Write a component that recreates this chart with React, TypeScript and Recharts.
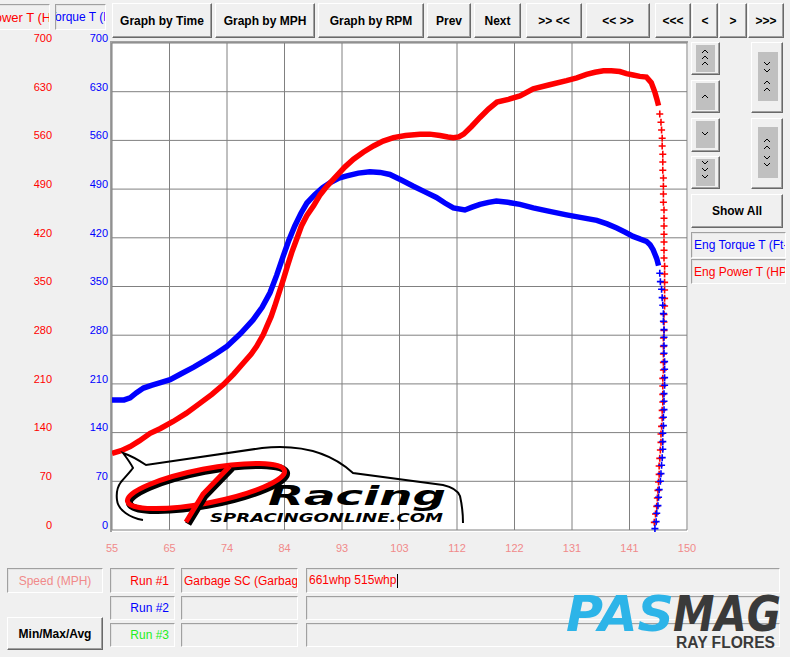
import { LineChart, Line, XAxis, YAxis, CartesianGrid } from "recharts";

// speed axis: grid every 9.5 mph, labels rounded
const speedTicks = [55, 64.5, 74, 83.5, 93, 102.5, 112, 121.5, 131, 140.5, 150];
const speedTickLabels = ["55", "65", "74", "84", "93", "103", "112", "122", "131", "141", "150"];
const valueTicks = [0, 70, 140, 210, 280, 350, 420, 490, 560, 630, 700];

// Eng Power T (HP) - continuous part of the pull
const powerMph = [
  55, 56.5, 58, 59.5, 61.3, 63, 65.1, 67.3, 69.5, 71.5, 73.4, 75.1, 76.7, 78, 78.9, 80, 80.6, 81.3,
  81.9, 82.6, 83.3, 84, 84.7, 85.5, 86.3, 87.2, 88.3, 89.4, 90.5, 92.1, 93.5, 94.9, 96.5, 98.2, 99.8,
  101.5, 103.5, 105.9, 107.5, 109.2, 110.5, 111.4, 112.3, 113.1, 114.4, 115.8, 117.2, 118.6, 120.5,
  122.4, 124.6, 127.3, 130.1, 131.8, 133.4, 134.8, 136.2, 137.5, 138.9, 140, 141.1, 142.2, 143.3,
  144.1, 144.7, 145.0, 145.3,
];
const powerHp = [
  110, 114, 120, 128, 139, 146, 156, 168, 182, 195, 209, 224, 240, 253, 264, 281, 293, 307,
  322, 341, 360, 380, 399, 418, 437, 452, 466, 482, 494, 509, 522, 533, 543, 552, 559,
  564, 567, 569, 569, 567, 565, 564, 565, 569, 580, 593, 605, 615, 619,
  624, 634, 640, 646, 650, 655, 658, 660, 660, 659, 656, 654, 652, 651,
  643, 629, 620, 610,
];
// power drop-off after the pull (sparse samples)
const powerDropMph = [
  145.5, 145.7, 145.8, 145.9, 145.9, 146.0, 146.0, 146.0, 146.1, 146.1, 146.1, 146.1, 146.2, 146.2,
  146.2, 146.2, 146.2, 146.2, 146.2, 146.3, 146.3, 146.3, 146.3, 146.3, 146.3, 146.2, 146.2, 146.2,
  146.1, 146.1, 146.1, 146.1, 146.1, 146.0, 146.0, 146.0, 146.0, 145.9, 145.9, 145.8, 145.7, 145.7,
  145.6, 145.5, 145.4, 145.4, 145.3, 145.2, 145.1, 145.0, 144.8, 144.6,
];
const powerDropHp = [
  598, 586, 575, 563, 552, 540, 529, 517, 506, 494, 483, 471, 460, 448,
  437, 425, 414, 402, 391, 379, 368, 356, 345, 333, 322, 310, 299, 287,
  276, 264, 253, 241, 230, 218, 207, 195, 184, 172, 161, 149, 138, 126,
  115, 103, 92, 80, 69, 57, 46, 34, 23, 11, 2,
];

// Eng Torque T (Ft-Lb)
const torqueMph = [
  55, 57, 58, 59, 60.2, 61.5, 63, 64.6, 66.5, 68.5, 70.6, 72.3, 74, 76.2, 78.3, 79.8, 81.1, 82.2,
  83.3, 84.2, 85.2, 86.2, 87.2, 88.5, 89.8, 91, 92.5, 93.8, 95.7, 97.6, 99.3, 100.9, 102.8, 104.8,
  106.7, 108.6, 110, 111.4, 113.3, 114.5, 115.8, 117.2, 118.5, 120.4, 122.4, 124.6, 127.3, 130.1,
  132.6, 135.1, 136.8, 138.4, 139.8, 141.1, 142.3, 143.3, 143.9, 144.4, 145, 145.3,
];
const torqueFtLb = [
  187, 187, 190, 197, 204, 208, 212, 216, 225, 234, 245, 254, 264, 282, 302, 320, 341, 366,
  394, 416, 437, 455, 470, 482, 492, 499, 506, 509, 513, 515, 514, 511, 503, 494,
  486, 478, 470, 463, 460, 464, 468, 471, 473, 471, 468, 463, 458, 453,
  449, 445, 440, 434, 428, 422, 418, 415, 410, 403, 390, 380,
];
const torqueDropMph = [
  145.5, 145.6, 145.8, 145.9, 146.0, 146.1, 146.1, 146.2, 146.2, 146.2, 146.2, 146.3, 146.3, 146.3,
  146.3, 146.2, 146.2, 146.2, 146.1, 146.1, 146.0, 146.0, 146.0, 145.9, 145.8, 145.7, 145.6, 145.4,
  145.3, 145.2, 145.0, 144.9, 144.7,
];
const torqueDropFtLb = [
  369, 357, 346, 334, 323, 311, 300, 288, 277, 265, 254, 242, 231, 219,
  208, 196, 185, 173, 162, 150, 139, 127, 116, 104, 93, 81, 70, 58,
  47, 35, 24, 12, 2,
];

const powerData = powerMph.map((mph, i) => ({ mph, hp: powerHp[i] }));
const powerDropData = powerDropMph.map((mph, i) => ({ mph, hp: powerDropHp[i] }));
const torqueData = torqueMph.map((mph, i) => ({ mph, tq: torqueFtLb[i] }));
const torqueDropData = torqueDropMph.map((mph, i) => ({ mph, tq: torqueDropFtLb[i] }));

const RED = "#ff0000";
const BLUE = "#0000ff";
const UI_FONT = "'Liberation Sans', Arial, sans-serif";
// axis ids: the torque scale sits next to the plot, the power scale outside it
const TQ_AXIS = "a-torque";
const HP_AXIS = "b-power";

const cross = (color: string) => (p: any) => (
  <path
    key={`c-${p.index}`}
    d={`M${p.cx - 3.5},${p.cy}h7M${p.cx},${p.cy - 3.5}v7`}
    stroke={color}
    strokeWidth={1.6}
    fill="none"
  />
);

const valueTick = (color: string) => (p: any) => (
  <text x={p.x} y={p.y - 5} dy="0.35em" textAnchor="end" fill={color} fontSize={11} fontFamily={UI_FONT}>
    {p.payload.value}
  </text>
);

const SpeedTick = (p: any) => {
  const i = speedTicks.indexOf(p.payload.value);
  return (
    <text x={p.x} y={p.y + 18} dy="0.35em" textAnchor="middle" fill="#f08a8a" fontSize={11} fontFamily={UI_FONT}>
      {speedTickLabels[i]}
    </text>
  );
};

const raised: React.CSSProperties = {
  position: "absolute",
  boxSizing: "border-box",
  background: "#f0f0f0",
  border: "1px solid",
  borderColor: "#ffffff #696969 #696969 #ffffff",
  boxShadow: "inset -1px -1px 0 #a0a0a0",
  display: "flex",
  alignItems: "center",
  justifyContent: "center",
  fontFamily: UI_FONT,
  fontWeight: "bold",
  fontSize: 12,
  color: "#000",
};

const sunken: React.CSSProperties = {
  position: "absolute",
  boxSizing: "border-box",
  background: "#f0f0f0",
  border: "1px solid",
  borderColor: "#a0a0a0 #ffffff #ffffff #a0a0a0",
  boxShadow: "inset 1px 1px 0 #e3e3e3",
  overflow: "hidden",
  whiteSpace: "nowrap",
  fontFamily: UI_FONT,
  fontSize: 12,
  display: "flex",
  alignItems: "center",
};

function Btn({ x, y, w, h, label }: { x: number; y: number; w: number; h: number; label?: string }) {
  return <div style={{ ...raised, left: x, top: y, width: w, height: h }}>{label}</div>;
}

function Box({ x, y, w, h, color, align, children, shift = 2, size = 12 }: any) {
  return (
    <div style={{ ...sunken, left: x, top: y, width: w, height: h, color, fontSize: size, justifyContent: align || "flex-start" }}>
      <span style={{ flexShrink: 0, marginLeft: align ? 0 : shift, marginRight: align === "flex-end" ? 5 : 0 }}>{children}</span>
    </div>
  );
}

// chevron glyph helpers for the scroll buttons
const chev = (cx: number, cy: number, up: boolean, k: string) => (
  <polyline
    key={k}
    points={up ? `${cx - 3},${cy + 2} ${cx},${cy - 1} ${cx + 3},${cy + 2}` : `${cx - 3},${cy - 2} ${cx},${cy + 1} ${cx + 3},${cy - 2}`}
    fill="none"
    stroke="#000"
    strokeWidth={1}
  />
);

export default function App() {
  return (
    <div style={{ position: "fixed", left: 0, top: 0, width: 790, height: 657, background: "#f0f0f0", overflow: "hidden" }}>
      {/* plot frame */}
      <div style={{ position: "absolute", left: 110, top: 41, width: 578, height: 491, background: "#fff", borderTop: "2px solid #a0a0a0", borderLeft: "2px solid #a0a0a0", boxSizing: "border-box" }} />

      <div style={{ position: "absolute", left: 0, top: 0 }}>
        <LineChart width={700} height={560} margin={{ top: 43, right: 13, bottom: 0, left: 0 }}>
          <CartesianGrid yAxisId={TQ_AXIS} stroke="#808080" strokeWidth={1} fill="#ffffff" />
          <XAxis
            dataKey="mph"
            type="number"
            domain={[55, 150]}
            ticks={speedTicks}
            allowDataOverflow
            axisLine={false}
            tickLine={false}
            tickSize={0}
            tickMargin={0}
            height={30}
            tick={SpeedTick}
          />
          <YAxis
            yAxisId={TQ_AXIS}
            type="number"
            domain={[0, 700]}
            ticks={valueTicks}
            width={56}
            axisLine={false}
            tickLine={false}
            tickSize={0}
            tickMargin={4}
            tick={valueTick(BLUE)}
          />
          <YAxis
            yAxisId={HP_AXIS}
            type="number"
            domain={[0, 700]}
            ticks={valueTicks}
            width={56}
            axisLine={false}
            tickLine={false}
            tickSize={0}
            tickMargin={4}
            tick={valueTick(RED)}
          />
          <Line yAxisId={TQ_AXIS} data={torqueData} dataKey="tq" type="linear" stroke={BLUE} strokeWidth={5.5} dot={false} activeDot={false} isAnimationActive={false} />
          <Line yAxisId={HP_AXIS} data={powerData} dataKey="hp" type="linear" stroke={RED} strokeWidth={5.5} dot={false} activeDot={false} isAnimationActive={false} />
          <Line yAxisId={HP_AXIS} data={powerDropData} dataKey="hp" type="linear" stroke="none" dot={cross(RED)} activeDot={false} isAnimationActive={false} />
          <Line yAxisId={TQ_AXIS} data={torqueDropData} dataKey="tq" type="linear" stroke="none" dot={cross(BLUE)} activeDot={false} isAnimationActive={false} />
        </LineChart>
      </div>

      {/* SP Racing watermark */}
      <svg width={790} height={657} style={{ position: "absolute", left: 0, top: 0, pointerEvents: "none" }}>
        <path
          d="M143,520 C130,518 118,510 117,500 C116,492 118,486 121,482 C126,476 130,472 133,468 C130,462 126,457 123,453 C132,456 140,461 146,465 L262,448 C300,444 330,452 353,473 L443,485 C452,487 458,491 460,496 C462,505 463,515 463,523"
          fill="none"
          stroke="#000"
          strokeWidth={2}
        />
        <ellipse cx={208} cy={488} rx={80} ry={17} transform="rotate(-11 208 488)" fill="none" stroke="#000" strokeWidth={7} />
        <ellipse cx={206} cy={486} rx={80} ry={17} transform="rotate(-11 206 486)" fill="none" stroke={RED} strokeWidth={5} />
        <path d="M188,524 L205,496 L232,468" fill="none" stroke="#000" strokeWidth={7} />
        <path d="M186,522 L203,494 L230,466" fill="none" stroke={RED} strokeWidth={5} />
        <text x={268} y={505} fontSize={26} fontWeight={900} fontStyle="italic" fontFamily="'DejaVu Sans', sans-serif" textLength={178} lengthAdjust="spacingAndGlyphs" fill="#000">
          Racing
        </text>
        <text x={210} y={522} fontSize={12} fontWeight={700} fontStyle="italic" fontFamily="'DejaVu Sans', sans-serif" textLength={233} lengthAdjust="spacingAndGlyphs" fill="#000">
          SPRACINGONLINE.COM
        </text>
      </svg>

      {/* top-left axis name boxes */}
      <Box x={-10} y={4} w={60} h={26} color={RED} shift={-5} size={13}>Power T (HP)</Box>
      <Box x={55} y={4} w={51} h={26} color={BLUE} shift={-7}>Torque T (Ft-Lb)</Box>

      {/* toolbar */}
      <Btn x={112} y={3} w={100} h={35} label="Graph by Time" />
      <Btn x={215} y={3} w={100} h={35} label="Graph by MPH" />
      <Btn x={318} y={3} w={106} h={35} label="Graph by RPM" />
      <Btn x={427} y={3} w={44} h={35} label="Prev" />
      <Btn x={474} y={3} w={47} h={35} label="Next" />
      <Btn x={526} y={3} w={56} h={35} label=">> <<" />
      <Btn x={586} y={3} w={64} h={35} label="<< >>" />
      <Btn x={655} y={3} w={36} h={35} label="<<<" />
      <Btn x={692} y={3} w={26} h={35} label="<" />
      <Btn x={719} y={3} w={28} h={35} label=">" />
      <Btn x={748} y={3} w={36} h={35} label=">>>" />

      {/* right scale buttons */}
      <Btn x={691} y={42} w={29} h={33} />
      <Btn x={691} y={80} w={29} h={33} />
      <Btn x={691} y={118} w={29} h={34} />
      <Btn x={691} y={156} w={29} h={33} />
      <Btn x={751} y={42} w={32} h={71} />
      <Btn x={751} y={118} w={32} h={71} />
      <svg width={790} height={200} style={{ position: "absolute", left: 0, top: 0, pointerEvents: "none" }}>
        <rect x={696} y={45} width={19} height={27} fill="#c0c0c0" />
        <rect x={696} y={83} width={19} height={27} fill="#c0c0c0" />
        <rect x={696} y={121} width={19} height={27} fill="#c0c0c0" />
        <rect x={696} y={159} width={19} height={27} fill="#c0c0c0" />
        <rect x={758} y={52} width={20} height={49} fill="#c0c0c0" />
        <rect x={758} y={127} width={20} height={51} fill="#c0c0c0" />
        {[chev(705, 51, true, "a1"), chev(705, 57, true, "a2"), chev(705, 63, true, "a3")]}
        {chev(705, 96, true, "b1")}
        {chev(705, 134, false, "c1")}
        {[chev(705, 163, false, "d1"), chev(705, 170, false, "d2"), chev(705, 177, false, "d3")]}
        {[chev(767, 64, false, "e1"), chev(767, 71, false, "e2"), chev(767, 82, true, "e3"), chev(767, 89, true, "e4")]}
        {[chev(767, 140, true, "f1"), chev(767, 147, true, "f2"), chev(767, 158, false, "f3"), chev(767, 165, false, "f4")]}
      </svg>
      <Btn x={691} y={194} w={92} h={34} label="Show All" />
      <Box x={691} y={232} w={95} h={26} color={BLUE}>Eng Torque T (Ft-Lb)</Box>
      <Box x={691} y={259} w={95} h={25} color={RED}>Eng Power T (HP)</Box>

      {/* bottom run panel */}
      <Box x={7} y={568} w={96} h={25} color="#f08a8a" align="center">Speed (MPH)</Box>
      <Box x={110} y={568} w={65} h={25} color={RED} align="flex-end">Run #1</Box>
      <Box x={181} y={568} w={117} h={25} color={RED}>Garbage SC (Garbage SC)</Box>
      <Box x={306} y={568} w={474} h={25} color={RED}>
        661whp 515whp<span style={{ borderLeft: "1px solid #000", marginLeft: 1, height: 14, display: "inline-block", verticalAlign: "middle" }} />
      </Box>
      <Box x={110} y={596} w={65} h={24} color={BLUE} align="flex-end">Run #2</Box>
      <Box x={181} y={596} w={117} h={24} color={RED} />
      <Box x={306} y={596} w={474} h={24} color={RED} />
      <Box x={110} y={623} w={65} h={24} color="#22ee22" align="flex-end">Run #3</Box>
      <Box x={181} y={623} w={117} h={24} color={RED} />
      <Box x={306} y={623} w={474} h={24} color={RED} />
      <Btn x={7} y={617} w={96} h={33} label="Min/Max/Avg" />

      {/* PASMAG watermark */}
      <svg width={790} height={657} style={{ position: "absolute", left: 0, top: 0, pointerEvents: "none" }}>
        <text x={566} y={631} fontSize={50} fontWeight={900} fontStyle="italic" fontFamily="'DejaVu Sans', sans-serif" textLength={108} lengthAdjust="spacingAndGlyphs" fill="#2db4e8">
          PAS
        </text>
        <text x={673} y={631} fontSize={50} fontWeight={900} fontStyle="italic" fontFamily="'DejaVu Sans', sans-serif" textLength={108} lengthAdjust="spacingAndGlyphs" fill="#3a3a3a">
          MAG
        </text>
        <text x={676} y={648} fontSize={16} fontWeight={700} fontFamily="'Liberation Sans', Arial, sans-serif" textLength={99} lengthAdjust="spacingAndGlyphs" fill="#3a3a3a">
          RAY FLORES
        </text>
      </svg>
    </div>
  );
}
